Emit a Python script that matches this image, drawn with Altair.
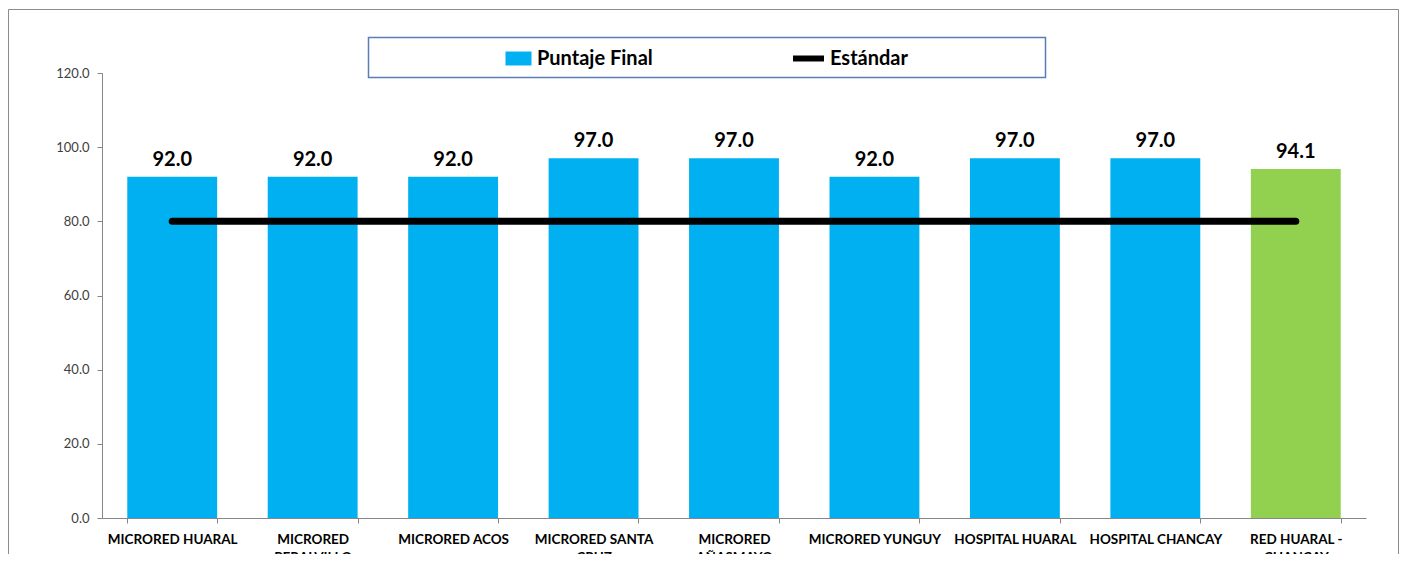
import altair as alt
import pandas as pd

categories = ["MICRORED HUARAL", "MICRORED PERALVILLO", "MICRORED ACOS",
              "MICRORED SANTA CRUZ", "MICRORED AÑASMAYO", "MICRORED YUNGUY",
              "HOSPITAL HUARAL", "HOSPITAL CHANCAY", "RED HUARAL - CHANCAY"]
puntaje = [92.0, 92.0, 92.0, 97.0, 97.0, 92.0, 97.0, 97.0, 94.1]
estandar = [80, 80, 80, 80, 80, 80, 80, 80, 80]
# how each axis label is split over lines
label_lines = [["MICRORED HUARAL"], ["MICRORED", "PERALVILLO"], ["MICRORED ACOS"],
               ["MICRORED SANTA", "CRUZ"], ["MICRORED", "AÑASMAYO"], ["MICRORED YUNGUY"],
               ["HOSPITAL HUARAL"], ["HOSPITAL CHANCAY"], ["RED HUARAL -", "CHANCAY"]]
serie_bar = "Puntaje Final"
serie_line = "Estándar"
total_name = "RED HUARAL - CHANCAY"

FONT = "Lato"
BLUE = "#00B0F0"
GREEN = "#92D050"

df = pd.DataFrame({"cat": categories, "puntaje": puntaje, "std": estandar})
df["serie"] = serie_bar
df["serie2"] = serie_line

# label expression for wrapped labels
parts = []
for c, lines in zip(categories, label_lines):
    if len(lines) > 1:
        arr = "[" + ",".join("'" + l + "'" for l in lines) + "]"
        parts.append(f"datum.label == '{c}' ? {arr} : ")
label_expr = "".join(parts) + "datum.label"

xenc = alt.X("cat:N", sort=categories, title=None,
             scale=alt.Scale(paddingInner=0.36, paddingOuter=0.18),
             axis=alt.Axis(labelAngle=0, labelExpr=label_expr, labelFont=FONT,
                           labelFontSize=13.5, labelFontWeight="bold", labelColor="black",
                           labelLineHeight=18, labelPadding=9, labelBaseline="top",
                           tickBand="extent", tickSize=5, tickColor="#868686",
                           domainColor="#868686", labelLimit=200))

common_leg = dict(orient="none", direction="horizontal", title=None,
                  labelFont=FONT, labelFontSize=20, labelFontWeight="bold",
                  labelColor="black", labelOffset=3, padding=0, symbolSize=961,
                  symbolOpacity=1)

bar_legend = alt.Legend(legendX=401, legendY=-30,
                        symbolType="M-0.84,-0.45H0.84V0.45H-0.84Z",
                        symbolStrokeWidth=0, **common_leg)
line_legend = alt.Legend(legendX=688, legendY=-33, symbolType="stroke",
                         symbolStrokeWidth=6, **common_leg)

base = alt.Chart(df)

bars = base.mark_bar().encode(
    x=xenc,
    y=alt.Y("puntaje:Q", title=None,
            scale=alt.Scale(domain=[0, 120]),
            axis=alt.Axis(values=[0, 20, 40, 60, 80, 100, 120], format=".1f",
                          labelFont=FONT, labelFontSize=13, labelColor="#404040",
                          tickSize=5, tickColor="#868686", domainColor="#868686",
                          grid=False, labelPadding=8)),
    fill=alt.condition(alt.datum.cat == total_name, alt.value(GREEN),
                       alt.Fill("serie:N", scale=alt.Scale(range=[BLUE]),
                                legend=bar_legend)),
)

line = base.mark_line(strokeWidth=7, strokeCap="round").encode(
    x=alt.X("cat:N", sort=categories),
    y=alt.Y("std:Q"),
    stroke=alt.Stroke("serie2:N", scale=alt.Scale(range=["#000000"]),
                      legend=line_legend),
)

text = base.mark_text(font=FONT, fontSize=20, fontWeight="bold", baseline="bottom",
                      dy=-7, color="black").encode(
    x=alt.X("cat:N", sort=categories),
    y=alt.Y("puntaje:Q"),
    text=alt.Text("puntaje:Q", format=".1f"),
)

deco = alt.Chart(pd.DataFrame({"k": [0]}))
frame = deco.mark_rect(fill="transparent", stroke="#8C8C8C", strokeWidth=1).encode(
    x=alt.value(-93.5), x2=alt.value(1296.5), y=alt.value(-63.5), y2=alt.value(700))
legbox = deco.mark_rect(fill="white", stroke="#5A7DB3", strokeWidth=1.5).encode(
    x=alt.value(266.5), x2=alt.value(943.5), y=alt.value(-35.5), y2=alt.value(4.5))

chart = alt.layer(frame, legbox, bars, line, text).properties(
    width=1264, height=445,
    padding={"left": 94, "top": 65, "right": 33, "bottom": 36},
    autosize=alt.AutoSizeParams(type="none"),
    background="white",
).configure_view(stroke=None)

chart.save("out.html", embed_options={"renderer": "svg", "actions": False})
